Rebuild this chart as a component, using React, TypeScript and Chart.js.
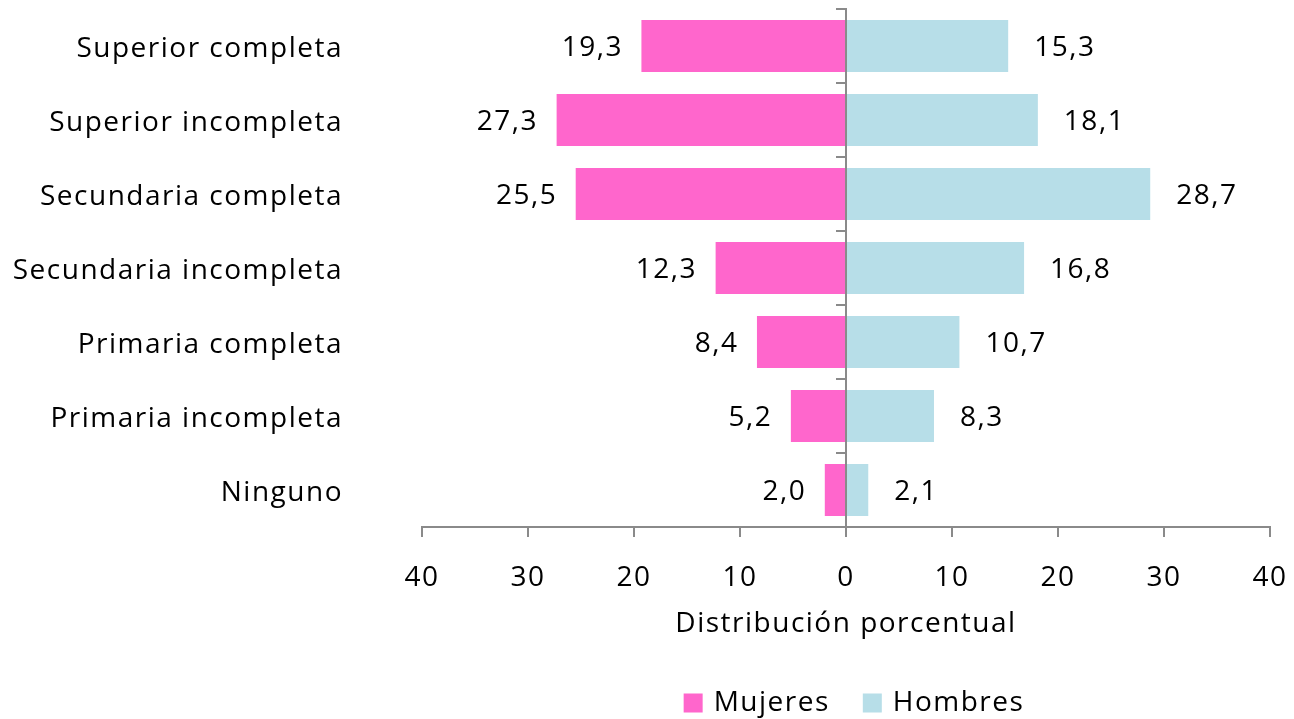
import React, { useEffect, useRef } from "react";
import { Chart, registerables } from "chart.js";

Chart.register(...registerables);

const categories = [
  "Superior completa",
  "Superior incompleta",
  "Secundaria completa",
  "Secundaria incompleta",
  "Primaria completa",
  "Primaria incompleta",
  "Ninguno",
];
const mujeres = [19.3, 27.3, 25.5, 12.3, 8.4, 5.2, 2.0];
const hombres = [15.3, 18.1, 28.7, 16.8, 10.7, 8.3, 2.1];
const xTicks = [-40, -30, -20, -10, 0, 10, 20, 30, 40];
const seriesNames = ["Mujeres", "Hombres"];

const FONT = "'Open Sans', 'Liberation Sans', sans-serif";
const FS = 28;
const LS = "1.5px";
const GRAY = "#8a8a8a";
const PINK = "#FF66CC";
const BLUE = "#B7DEE8";

const fmt = (v: number) => Math.abs(v).toFixed(1).replace(".", ",");

const setSpacing = (chart: any) => {
  (chart.ctx as any).letterSpacing = LS;
};

const pyramidPlugin = {
  id: "pyramid",
  beforeLayout(chart: any) {
    setSpacing(chart);
  },
  beforeDraw(chart: any) {
    setSpacing(chart);
  },
  afterDatasetsDraw(chart: any) {
    const ctx = chart.ctx;
    const x = chart.scales.x;
    const y = chart.scales.y;
    const x0 = x.getPixelForValue(0);
    ctx.save();
    ctx.strokeStyle = GRAY;
    ctx.lineWidth = 2;
    ctx.beginPath();
    ctx.moveTo(x0, y.getPixelForValue(-0.5) - 1);
    ctx.lineTo(x0, y.getPixelForValue(categories.length - 0.5));
    ctx.stroke();
    for (let i = 0; i <= categories.length; i++) {
      const py = y.getPixelForValue(i - 0.5);
      ctx.beginPath();
      ctx.moveTo(x0 - 10, py);
      ctx.lineTo(x0, py);
      ctx.stroke();
    }
    ctx.fillStyle = "#000";
    ctx.font = `${FS}px ${FONT}`;
    (ctx as any).letterSpacing = LS;
    ctx.textBaseline = "middle";
    chart.data.datasets.forEach((ds: any, di: number) => {
      const meta = chart.getDatasetMeta(di);
      meta.data.forEach((bar: any, i: number) => {
        const v = ds.data[i];
        if (v < 0) {
          ctx.textAlign = "right";
          ctx.fillText(fmt(v), bar.x - 18.5, bar.y + 2);
        } else {
          ctx.textAlign = "left";
          ctx.fillText(fmt(v), bar.x + 26, bar.y + 2);
        }
      });
    });
    ctx.restore();
  },
  afterDraw(chart: any) {
    const ctx = chart.ctx;
    const area = chart.chartArea;
    ctx.save();
    ctx.font = `${FS}px ${FONT}`;
    (ctx as any).letterSpacing = LS;
    ctx.textBaseline = "middle";
    ctx.textAlign = "left";
    const box = 19;
    const gap = 11;
    const between = 33;
    const colors = [PINK, BLUE];
    const widths = seriesNames.map((n) => ctx.measureText(n).width);
    const total = widths.reduce((a, w) => a + box + gap + w, 0) + between;
    let cx = (area.left + area.right) / 2 + 8 - total / 2;
    const cy = 703;
    seriesNames.forEach((n, i) => {
      ctx.fillStyle = colors[i];
      ctx.fillRect(cx, cy - box / 2, box, box);
      ctx.fillStyle = "#000";
      ctx.fillText(n, cx + box + gap, cy);
      cx += box + gap + widths[i] + between;
    });
    ctx.restore();
  },
};

export default function App() {
  const ref = useRef<HTMLCanvasElement>(null);
  useEffect(() => {
    if (!ref.current) return;
    const chart = new Chart(ref.current, {
      type: "bar",
      data: {
        labels: categories,
        datasets: [
          {
            label: seriesNames[0],
            data: mujeres.map((v) => -v),
            backgroundColor: PINK,
            categoryPercentage: 0.7,
            barPercentage: 1,
          },
          {
            label: seriesNames[1],
            data: hombres,
            backgroundColor: BLUE,
            categoryPercentage: 0.7,
            barPercentage: 1,
          },
        ],
      },
      options: {
        indexAxis: "y",
        responsive: false,
        animation: false,
        layout: { padding: { top: 9, right: 24, left: 0, bottom: 78 } },
        scales: {
          x: {
            stacked: true,
            min: -40,
            max: 40,
            afterBuildTicks: (scale: any) => {
              scale.ticks = xTicks.map((v) => ({ value: v }));
            },
            afterFit: (scale: any) => {
              scale.paddingLeft = 0;
              scale.paddingRight = 0;
              scale.height = 114;
            },
            grid: {
              drawOnChartArea: false,
              drawTicks: true,
              tickLength: 10,
              color: GRAY,
              lineWidth: 2,
            },
            border: { display: true, color: GRAY, width: 2 },
            ticks: {
              color: "#000",
              font: { family: FONT, size: FS },
              padding: 24,
              maxRotation: 0,
              callback: (v: any) => String(Math.abs(Number(v))),
            },
            title: {
              display: true,
              text: "Distribución porcentual",
              color: "#000",
              font: { family: FONT, size: FS },
              padding: { top: 11, bottom: 0 },
            },
          },
          y: {
            stacked: true,
            grid: { display: false, drawTicks: false },
            border: { display: false },
            ticks: {
              color: "#000",
              font: { family: FONT, size: FS },
              padding: 79,
              labelOffset: 3,
            },
            afterFit: (scale: any) => {
              scale.width = 422;
              scale.paddingTop = 0;
              scale.paddingBottom = 0;
            },
          },
        },
        plugins: {
          legend: { display: false },
          tooltip: { enabled: false },
        },
      },
      plugins: [pyramidPlugin],
    });
    return () => chart.destroy();
  }, []);
  return (
    <div style={{ position: "absolute", left: 0, top: 0, width: 1294, height: 719 }}>
      <canvas ref={ref} width={1294} height={719} />
    </div>
  );
}
